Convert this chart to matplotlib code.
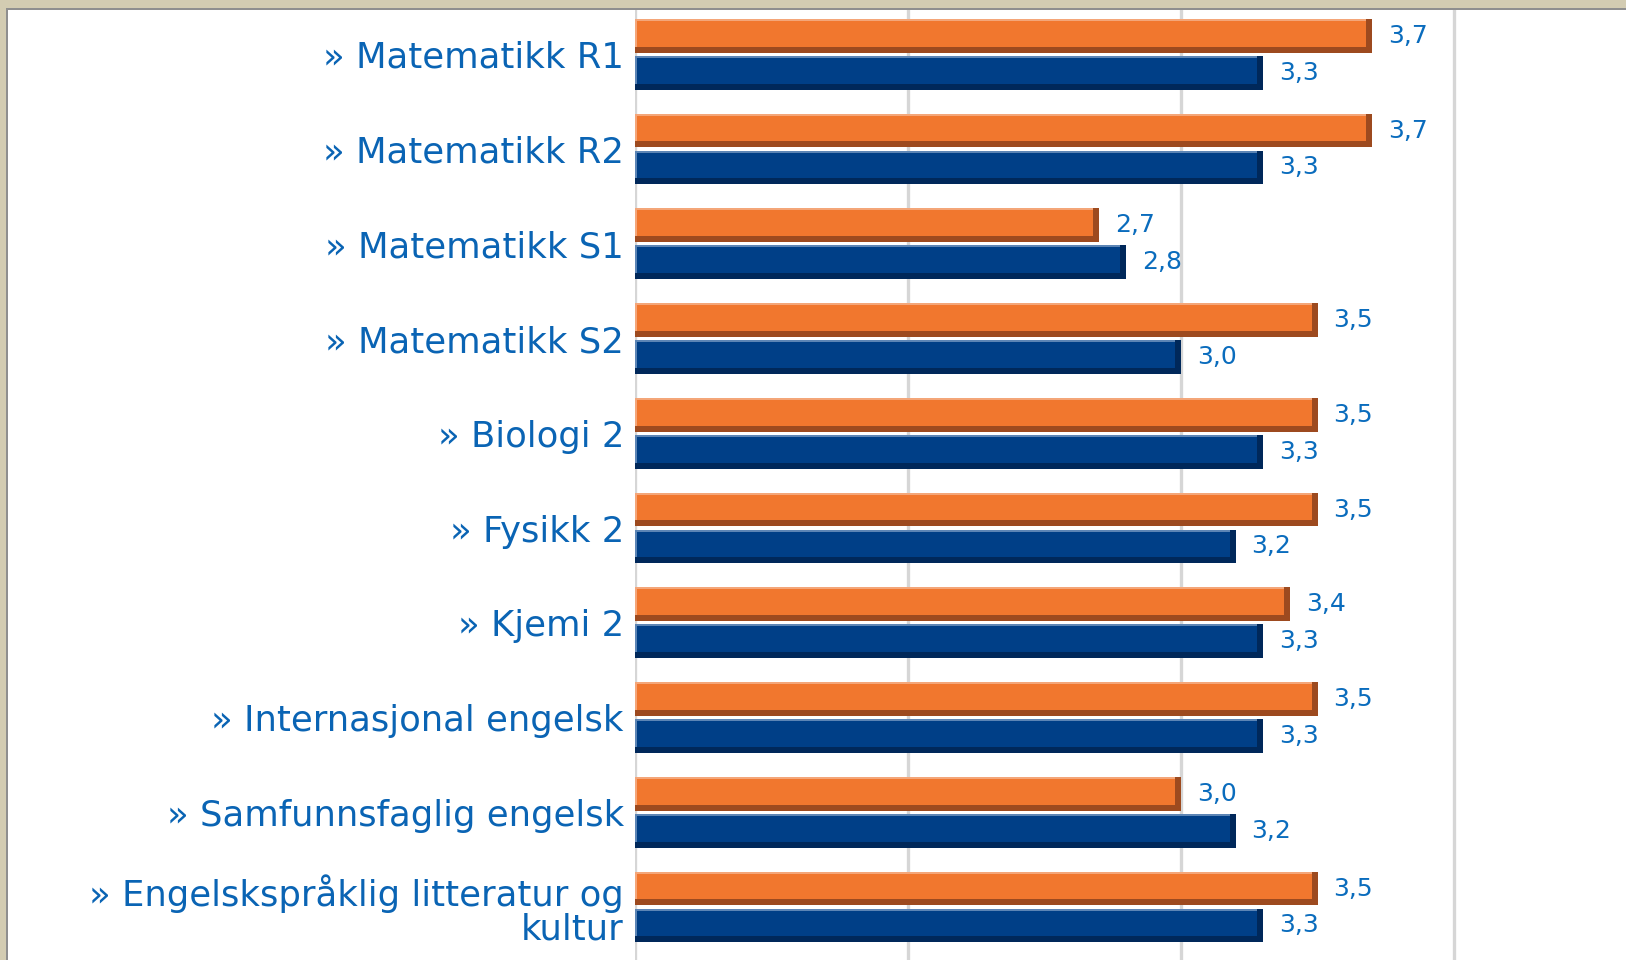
import matplotlib.pyplot as plt
from matplotlib.patches import Rectangle

categories = [
    "» Matematikk R1",
    "» Matematikk R2",
    "» Matematikk S1",
    "» Matematikk S2",
    "» Biologi 2",
    "» Fysikk 2",
    "» Kjemi 2",
    "» Internasjonal engelsk",
    "» Samfunnsfaglig engelsk",
    "» Engelskspråklig litteratur og\nkultur",
]
orange_values = [3.7, 3.7, 2.7, 3.5, 3.5, 3.5, 3.4, 3.5, 3.0, 3.5]
blue_values = [3.3, 3.3, 2.8, 3.0, 3.3, 3.2, 3.3, 3.3, 3.2, 3.3]
grid_ticks = [1, 2, 3, 4]

W, H = 1626, 960
fig = plt.figure(figsize=(W / 100, H / 100), dpi=100)
fig.patch.set_facecolor("white")

# window frame (beige border with grey inner line)
fig.add_artist(Rectangle((0, 1 - 8 / H), 1, 8 / H, transform=fig.transFigure,
                         color="#d3ccb2", lw=0))
fig.add_artist(Rectangle((0, 1 - 10 / H), 1, 2 / H, transform=fig.transFigure,
                         color="#8f8f8f", lw=0))
fig.add_artist(Rectangle((0, 0), 6 / W, 1, transform=fig.transFigure,
                         color="#d3ccb2", lw=0))
fig.add_artist(Rectangle((6 / W, 0), 2 / W, 1 - 8 / H, transform=fig.transFigure,
                         color="#8f8f8f", lw=0))

ax = fig.add_axes([635 / W, 0, 1 - 635 / W, 1 - 10 / H])
ax.set_xlim(1, 1 + (W - 635) / 273)
ax.set_ylim(9.559, -0.4675)

px_x = 1 / 273.0     # data units per pixel, x
px_y = 1 / 94.75     # data units per pixel, y
bar_h = 33.7 * px_y
offset = 18.45 * px_y

series = [
    (orange_values, -offset, "#f1772e", "#f4a679", "#9d4a1f"),
    (blue_values, offset, "#003f87", "#5c85b5", "#00285a"),
]

ypos = list(range(len(categories)))
for values, off, body, light, dark in series:
    ys = [y + off for y in ypos]
    widths = [v - 1 for v in values]
    # shadow (full bar)
    ax.barh(ys, widths, left=1, height=bar_h, color=dark, zorder=3)
    # highlight: top-left part
    ax.barh([y - 3 * px_y for y in ys], [w - 6 * px_x for w in widths], left=1,
            height=bar_h - 6 * px_y, color=light, zorder=4)
    # body
    ax.barh([y - 2 * px_y for y in ys], [w - 8 * px_x for w in widths],
            left=1 + 2 * px_x, height=bar_h - 8 * px_y, color=body, zorder=5)
    for y, v in zip(ys, values):
        ax.text(v + 16 * px_x, y, f"{v:.1f}".replace(".", ","), color="#0a6cbd",
                fontsize=18, ha="left", va="center", zorder=6)

ax.set_xticks(grid_ticks)
ax.set_xticklabels([])
ax.tick_params(axis="x", length=0)
ax.grid(axis="x", color="#d6d6d6", linewidth=2.4, zorder=0)
ax.set_axisbelow(True)

ax.set_yticks(ypos)
ax.set_yticklabels(categories, fontsize=25.5, color="#0a64b4", linespacing=1.0,
                   multialignment="right")
ax.tick_params(axis="y", length=0, pad=8)

for s in ax.spines.values():
    s.set_visible(False)

fig.savefig("out.png", dpi=100, facecolor=fig.get_facecolor())
